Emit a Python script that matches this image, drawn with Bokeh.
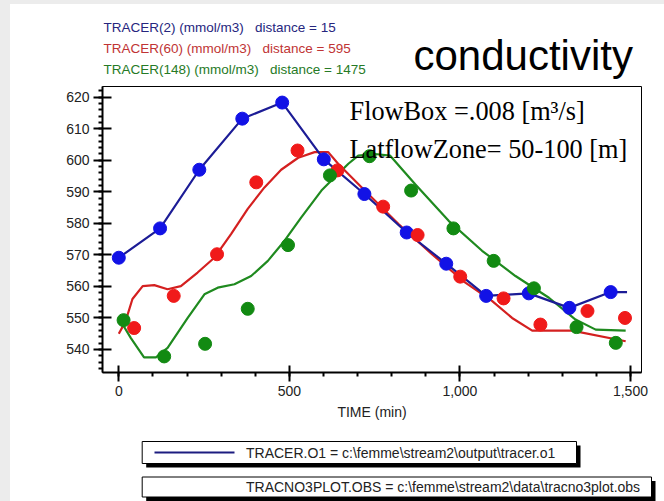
from bokeh.plotting import figure
from bokeh.layouts import column
from bokeh.models import Range1d, SingleIntervalTicker, NumeralTickFormatter, Label
from bokeh.embed import file_html
from bokeh.resources import INLINE

# ---------------- data ----------------
blue_obs_time = [0, 121, 236, 362, 479, 601, 720, 844, 960, 1077, 1202, 1321, 1442]
blue_obs_val = [569.1, 578.4, 597.0, 613.2, 618.3, 600.3, 589.3, 577.1, 567.2, 557.0, 557.8, 553.2, 558.2]

red_obs_time = [45, 161, 288, 403, 524, 641, 775, 876, 1001, 1128, 1236, 1374, 1484]
red_obs_val = [546.8, 557.0, 570.2, 593.0, 603.1, 596.8, 585.3, 576.3, 563.1, 556.2, 547.9, 552.2, 550.0]

green_obs_time = [14, 133, 253, 378, 496, 619, 735, 857, 981, 1099, 1217, 1342, 1457]
green_obs_val = [549.3, 537.8, 541.8, 552.9, 573.1, 595.2, 601.3, 590.4, 578.4, 568.1, 559.4, 547.1, 542.1]

blue_mod_time = [0, 121, 236, 362, 479, 601, 720, 844, 960, 1077, 1202, 1321, 1442, 1490]
blue_mod_val = [569.1, 578.4, 597.0, 613.2, 618.3, 600.3, 589.3, 577.1, 567.2, 557.0, 557.8, 553.2, 558.2, 558.2]

red_mod_time = [0, 20, 40, 70, 104, 143, 182, 231, 280, 329, 378, 427, 476, 526, 574, 614, 643,
                721, 820, 918, 1016, 1094, 1153, 1212, 1329, 1486]
red_mod_val = [545.0, 549.0, 556.0, 560.1, 560.4, 559.1, 560.1, 564.4, 569.1, 576.6, 584.6, 591.4,
               597.0, 600.8, 602.6, 602.6, 598.9, 590.4, 579.8, 570.2, 561.2, 555.4, 550.0, 546.0,
               546.0, 542.6]

green_mod_time = [0, 35, 74, 109, 143, 202, 251, 290, 339, 388, 437, 486, 535, 594, 643, 673, 702,
                  751, 795, 869, 967, 1065, 1163, 1261, 1339, 1398, 1486]
green_mod_val = [550.0, 543.7, 537.5, 537.5, 540.5, 550.0, 557.5, 559.6, 560.7, 563.3, 568.1, 574.5,
                 581.9, 590.4, 595.7, 598.9, 601.5, 602.0, 601.5, 592.4, 580.8, 571.3, 563.3, 556.4,
                 549.5, 546.3, 546.0]

GAP = " \u00a0\u00a0"
series_labels = ["TRACER(2) (mmol/m3)" + GAP + "distance = 15",
                 "TRACER(60) (mmol/m3)" + GAP + "distance = 595",
                 "TRACER(148) (mmol/m3)" + GAP + "distance = 1475"]
title_text = "conductivity"
note_lines = ["FlowBox =.008 [m\u00b3/s]", "LatflowZone= 50-100 [m]"]
x_axis_title = "TIME (min)"
file_legend = ["TRACER.O1 = c:\\femme\\stream2\\output\\tracer.o1",
               "TRACNO3PLOT.OBS = c:\\femme\\stream2\\data\\tracno3plot.obs"]

SANS = "Liberation Sans"
GRAY = "#ececec"

# ---------------- page geometry (pixels) ----------------
LEFT_PAD, TOP_PAD = 10, 4
W = 664 - LEFT_PAD
TOP_END, MAIN_END, PAGE_H = 80, 430, 501
FL, FR, FT, FB = 102, 641, 86, 372          # frame of the main chart, page pixels
X0, X1 = -47.8, 1532.4
Y0, Y1 = 532.7, 623.4


def xp(px):
    return X0 + (px - FL) / (FR - FL) * (X1 - X0)


def yp(py):
    return Y1 - (py - FT) / (FB - FT) * (Y1 - Y0)


def deco_fig(y_top, y_bot):
    f = figure(width=W, height=y_bot - y_top, output_backend="svg", toolbar_location=None,
               x_range=Range1d(LEFT_PAD, 664), y_range=Range1d(y_bot, y_top),
               x_axis_type=None, y_axis_type=None,
               min_border=0, min_border_left=0, min_border_right=0, min_border_top=0, min_border_bottom=0)
    f.outline_line_color = None
    f.background_fill_color = "white"
    f.border_fill_color = "white"
    f.frame_align = False
    return f


# ---------------- top header ----------------
top = deco_fig(TOP_PAD, TOP_END)
legend_colors = ["#26267e", "#c03434", "#267a26"]
for i, (txt, col) in enumerate(zip(series_labels, legend_colors)):
    top.add_layout(Label(x=103, y=26.7 + 21.3 * i, text=txt, text_color=col,
                         text_font=SANS, text_font_size="13.5px", text_baseline="middle", text_align="left"))
top.add_layout(Label(x=413, y=55, text=title_text, text_color="black",
                     text_font=SANS, text_font_size="42px", text_baseline="alphabetic"))
top.margin = (TOP_PAD, 0, 0, LEFT_PAD)

# ---------------- main chart ----------------
p = figure(width=W, height=MAIN_END - TOP_END, output_backend="svg", toolbar_location=None,
           x_range=Range1d(X0, X1), y_range=Range1d(Y0, Y1),
           min_border_left=FL - LEFT_PAD, min_border_right=664 - FR,
           min_border_top=FT - TOP_END, min_border_bottom=MAIN_END - FB)
p.margin = (0, 0, 0, LEFT_PAD)
p.frame_align = False
p.background_fill_color = "white"
p.border_fill_color = "white"
p.outline_line_color = "black"
p.outline_line_width = 1
p.grid.visible = False

xa = p.xaxis[0]
xa.ticker = SingleIntervalTicker(interval=500, num_minor_ticks=5)
xa.formatter = NumeralTickFormatter(format="0,0")
xa.axis_label = x_axis_title
ya = p.yaxis[0]
ya.ticker = SingleIntervalTicker(interval=10, num_minor_ticks=5)
for ax in (xa, ya):
    ax.axis_line_width = 2
    ax.axis_line_color = "black"
    ax.major_tick_line_width = 2
    ax.major_tick_line_color = "black"
    ax.minor_tick_line_width = 2
    ax.minor_tick_line_color = "black"
    ax.major_tick_out = 9
    ax.minor_tick_in = 0
    ax.minor_tick_out = 4
    ax.major_label_text_font = SANS
    ax.major_label_text_font_size = "14px"
    ax.major_label_text_color = "#222222"
    ax.major_label_standoff = 4
    ax.axis_label_text_font = SANS
    ax.axis_label_text_font_size = "14px"
    ax.axis_label_text_font_style = "normal"
    ax.axis_label_text_color = "#222222"
xa.major_tick_in = 7
ya.major_tick_in = 9
xa.axis_label_standoff = 5

# model lines
p.line(red_mod_time, red_mod_val, line_color="#d42020", line_width=2.2)
p.line(green_mod_time, green_mod_val, line_color="#1f8a1f", line_width=2.2)
p.line(blue_mod_time, blue_mod_val, line_color="#1c1c96", line_width=2.2)

# observations
p.scatter(blue_obs_time, blue_obs_val, marker="circle", size=13, fill_color="#1212e6", line_color="#1212e6")
p.scatter(red_obs_time, red_obs_val, marker="circle", size=13, fill_color="#f01a1a", line_color="#f01a1a")
p.scatter(green_obs_time, green_obs_val, marker="circle", size=13, fill_color="#128a12", line_color="#128a12")

for i, txt in enumerate(note_lines):
    p.add_layout(Label(x=xp(349), y=yp(111 + 38 * i), text=txt, text_color="black",
                       text_font="Liberation Serif", text_font_size="26.3px", text_baseline="alphabetic"))

# ---------------- bottom file legend ----------------
bot = deco_fig(MAIN_END, PAGE_H)
bot.margin = (0, 0, 0, LEFT_PAD)
box_l = [141.7, 141.7]
box_r = [576, 651]
box_t = [441, 476.5]
box_b = [463, 496.5]
bot.quad(left=[v + 4 for v in box_l], right=[v + 4 for v in box_r], top=[v + 4 for v in box_t],
         bottom=[v + 4 for v in box_b], fill_color="black", line_color=None)
bot.quad(left=box_l, right=box_r, top=box_t, bottom=box_b, fill_color="white", line_color="black",
         line_width=1)
bot.line([154, 234], [452, 452], line_color="#1c1c80", line_width=2.2)
for t, b, txt in zip(box_t, box_b, file_legend):
    bot.add_layout(Label(x=245.5, y=(t + b) / 2, text=txt, text_color="#222222",
                         text_font=SANS, text_font_size="14px", text_baseline="middle"))

page_bg = ("linear-gradient(%s 4px, transparent 4px), "
           "linear-gradient(to right, %s 10px, #ffffff 10px)" % (GRAY, GRAY))
layout = column(top, p, bot, spacing=0, styles={"background": page_bg})
html = file_html(layout, INLINE)
open("out.html", "w").write(html)
